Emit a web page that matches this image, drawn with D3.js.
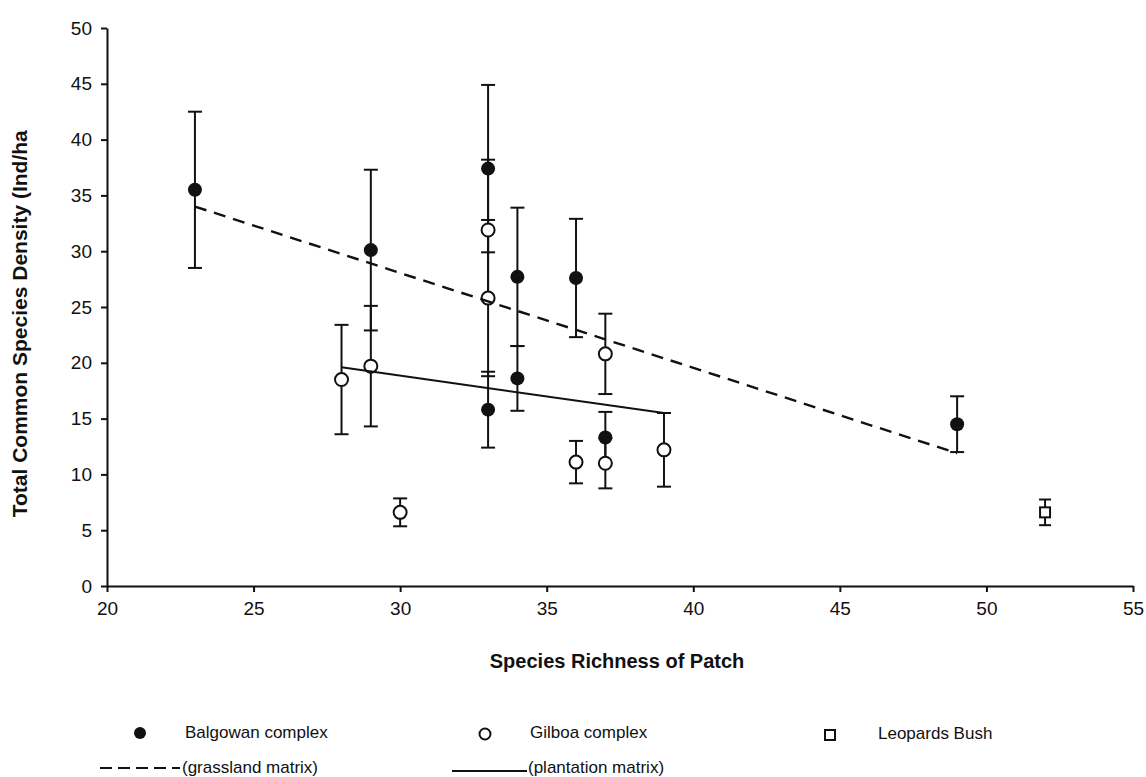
<!DOCTYPE html>
<html>
<head>
<meta charset="utf-8">
<script src="https://cdn.jsdelivr.net/npm/d3@7"></script>
<style>
  body { margin: 0; background: #fff; }
  text { font-family: "Liberation Sans", Arial, sans-serif; fill: #111; }
</style>
</head>
<body>
<div class="chart"></div>
<script>
// Balgowan complex (filled circles)
const balgowanRichness = [23, 29, 33, 33, 34, 34, 36, 37, 49]
const balgowanDensity = [35.5, 30.1, 37.4, 15.8, 27.7, 18.6, 27.6, 13.3, 14.5]
const balgowanError = [7.0, 7.2, 7.5, 3.4, 6.2, 2.9, 5.3, 2.3, 2.5]

// Gilboa complex (open circles)
const gilboaRichness = [28, 29, 30, 33, 33, 36, 37, 37, 39]
const gilboaDensity = [18.5, 19.7, 6.6, 31.9, 25.8, 11.1, 20.8, 11.0, 12.2]
const gilboaError = [4.9, 5.4, 1.25, 6.3, 7.0, 1.9, 3.6, 2.25, 3.3]

// Leopards Bush (square)
const leopardsRichness = [52]
const leopardsDensity = [6.6]
const leopardsError = [1.15]

// trend lines
const grasslandX = [23, 49]
const grasslandY = [34.0, 11.9]
const plantationX = [28, 39]
const plantationY = [19.6, 15.5]

const xTicks = [20, 25, 30, 35, 40, 45, 50, 55]
const yTicks = [0, 5, 10, 15, 20, 25, 30, 35, 40, 45, 50]

const ink = '#111'
const margin = {top: 28, right: 13, bottom: 191, left: 107},
    width = 1146 - margin.left - margin.right,
    height = 777 - margin.top - margin.bottom;

const svg = d3.select('.chart')
  .append('svg')
    .attr('width', 1146)
    .attr('height', 777)
  .append('g')
    .attr('transform', `translate(${margin.left},${margin.top})`);

const x = d3.scaleLinear().domain([20, 55]).range([0, width])
const y = d3.scaleLinear().domain([0, 50]).range([height, 0])

// axes
svg.append('g')
  .attr('transform', `translate(0,${height})`)
  .call(d3.axisBottom(x).tickValues(xTicks).tickSize(6).tickPadding(10).tickSizeOuter(0))
  .call(g => g.select('.domain').attr('stroke', ink).attr('stroke-width', 2))
  .call(g => g.selectAll('.tick line').attr('stroke', ink).attr('stroke-width', 2))
  .call(g => g.selectAll('.tick text').style('font-size', '19px').attr('fill', ink))

svg.append('g')
  .call(d3.axisLeft(y).tickValues(yTicks).tickSize(6).tickPadding(9).tickSizeOuter(0))
  .call(g => g.select('.domain').attr('stroke', ink).attr('stroke-width', 2))
  .call(g => g.selectAll('.tick line').attr('stroke', ink).attr('stroke-width', 2))
  .call(g => g.selectAll('.tick text').style('font-size', '19px').attr('fill', ink))

// axis titles
svg.append('text')
  .attr('x', x(37.4))
  .attr('y', height + 82)
  .attr('text-anchor', 'middle')
  .style('font-size', '20px')
  .style('font-weight', 'bold')
  .text('Species Richness of Patch')

svg.append('text')
  .attr('transform', `translate(${-80},${y(23.5)}) rotate(-90)`)
  .attr('text-anchor', 'middle')
  .style('font-size', '21px')
  .style('font-weight', 'bold')
  .text('Total Common Species Density (Ind/ha')

const toPoints = (xs, ys, es) => xs.map((d, i) => ({x: d, y: ys[i], e: es[i]}))
const balgowan = toPoints(balgowanRichness, balgowanDensity, balgowanError)
const gilboa = toPoints(gilboaRichness, gilboaDensity, gilboaError)
const leopards = toPoints(leopardsRichness, leopardsDensity, leopardsError)

// error bars
const drawErrors = function(data, cap) {
  const g = svg.append('g').attr('stroke', ink).attr('stroke-width', 2)
  g.selectAll('.stem').data(data).join('line')
    .attr('x1', d => x(d.x)).attr('x2', d => x(d.x))
    .attr('y1', d => y(d.y + d.e)).attr('y2', d => y(d.y - d.e))
  g.selectAll('.top').data(data).join('line')
    .attr('x1', d => x(d.x) - cap).attr('x2', d => x(d.x) + cap)
    .attr('y1', d => y(d.y + d.e)).attr('y2', d => y(d.y + d.e))
  g.selectAll('.bottom').data(data).join('line')
    .attr('x1', d => x(d.x) - cap).attr('x2', d => x(d.x) + cap)
    .attr('y1', d => y(d.y - d.e)).attr('y2', d => y(d.y - d.e))
}
drawErrors(balgowan, 7)
drawErrors(gilboa, 7)
drawErrors(leopards, 6)

// markers
svg.append('g').selectAll('circle').data(balgowan).join('circle')
  .attr('cx', d => x(d.x)).attr('cy', d => y(d.y)).attr('r', 7)
  .attr('fill', ink)

svg.append('g').selectAll('circle').data(gilboa).join('circle')
  .attr('cx', d => x(d.x)).attr('cy', d => y(d.y)).attr('r', 6.5)
  .attr('fill', '#fff').attr('stroke', ink).attr('stroke-width', 2)

svg.append('g').selectAll('rect').data(leopards).join('rect')
  .attr('x', d => x(d.x) - 5).attr('y', d => y(d.y) - 5)
  .attr('width', 10).attr('height', 10)
  .attr('fill', '#fff').attr('stroke', ink).attr('stroke-width', 2)

// trend lines
const line = d3.line().x(d => x(d[0])).y(d => y(d[1]))
svg.append('path')
  .attr('d', line(grasslandX.map((d, i) => [d, grasslandY[i]])))
  .attr('fill', 'none').attr('stroke', ink).attr('stroke-width', 2.4)
  .attr('stroke-dasharray', '12,8')

svg.append('path')
  .attr('d', line(plantationX.map((d, i) => [d, plantationY[i]])))
  .attr('fill', 'none').attr('stroke', ink).attr('stroke-width', 2)

// legend
const legend = d3.select('svg').append('g')
  .style('font-size', '17px')

legend.append('circle').attr('cx', 140).attr('cy', 733).attr('r', 6).attr('fill', ink)
legend.append('text').attr('x', 185).attr('y', 738).text('Balgowan complex')

legend.append('circle').attr('cx', 485).attr('cy', 734).attr('r', 5.5)
  .attr('fill', '#fff').attr('stroke', ink).attr('stroke-width', 2)
legend.append('text').attr('x', 530).attr('y', 738).text('Gilboa complex')

legend.append('rect').attr('x', 825).attr('y', 730).attr('width', 10).attr('height', 10)
  .attr('fill', '#fff').attr('stroke', ink).attr('stroke-width', 2)
legend.append('text').attr('x', 878).attr('y', 739).text('Leopards Bush')

legend.append('line').attr('x1', 100).attr('x2', 180).attr('y1', 768).attr('y2', 768)
  .attr('stroke', ink).attr('stroke-width', 2).attr('stroke-dasharray', '12,6')
legend.append('text').attr('x', 182).attr('y', 773).text('(grassland matrix)')

legend.append('line').attr('x1', 452).attr('x2', 527).attr('y1', 771).attr('y2', 771)
  .attr('stroke', ink).attr('stroke-width', 2)
legend.append('text').attr('x', 528).attr('y', 773).text('(plantation matrix)')
</script>
</body>
</html>
